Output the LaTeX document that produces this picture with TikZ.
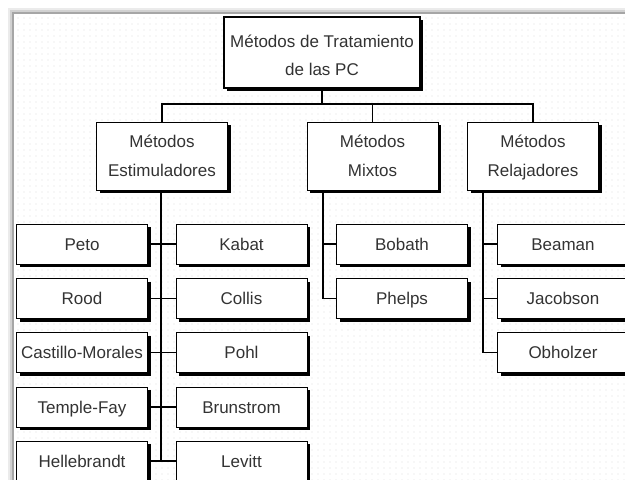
\documentclass[tikz,border=0pt]{standalone}
\usepackage{fontspec}
\setmainfont{Liberation Sans}
\usetikzlibrary{patterns,shadows}

\pgfdeclarepatternformonly{sparsedots}{\pgfqpoint{-1pt}{-1pt}}{\pgfqpoint{7pt}{7pt}}{\pgfqpoint{6pt}{6pt}}{%
  \pgfpathcircle{\pgfqpoint{0pt}{0pt}}{0.7pt}\pgfusepath{fill}}

\tikzset{
  metodo/.style={draw, line width=0.8pt, fill=white, text=black!80, font=\fontsize{17}{28}\selectfont,
    align=center, inner sep=0pt, minimum width=131pt, minimum height=40pt, text height=12.5pt, text depth=0pt,
    drop shadow={shadow xshift=3pt, shadow yshift=-3pt, fill=black, opacity=1}},
  grupo/.style={metodo, minimum height=68pt, text height=, font=\fontsize{17}{29}\selectfont},
  raiz/.style={metodo, line width=1.5pt, minimum width=196pt, minimum height=71pt, text height=, text depth=0pt,
    font=\fontsize{17}{28}\selectfont},
  conn/.style={line width=1.6pt}
}

\begin{document}
\begin{tikzpicture}[x=1pt, y=-1pt]
	%%%%% FONDO %%%%%
	\useasboundingbox (0,0) rectangle (625,480);
	\fill[white] (0,0) rectangle (625,480);
	\fill[pattern=sparsedots, pattern color=black!12] (14,14) rectangle (625,480);
	\draw[line width=2pt, color=black!8] (9,480) -- (9,9) -- (625,9);
	\draw[line width=1.5pt, color=black!18] (11,480) -- (11,11) -- (625,11);
	\draw[line width=1.2pt, color=black!35] (13,480) -- (13,13) -- (625,13);
	
	%%%%% NIVEL 1 %%%%%
	\node[raiz] (top) at (322, 52.5) {\rule{0pt}{18pt}Métodos de Tratamiento\\de las PC};
	
	%%%%% NIVEL 2 %%%%%
	\node[grupo] (estim) at (162, 156) {Métodos\\Estimuladores};
	\node[grupo] (mixtos) at (372.5, 156) {Métodos\\Mixtos};
	\node[grupo] (relaj) at (533, 156) {Métodos\\Relajadores};
	
	\coordinate (bus) at (322, 104);
	\draw[conn] (top.south) -- (bus);
	\draw[conn] (estim.north) |- (bus) -| (relaj.north);
	\draw[conn] (mixtos.north) -- (mixtos.north |- bus);
	
	%%%%% ESTIMULADORES %%%%%
	\node[metodo] (peto) at (82, 244) {Peto};
	\node[metodo] (rood) at (82, 298.5) {Rood};
	\node[metodo] (castillo) at (82, 352.5) {Castillo-Morales};
	\node[metodo] (temple) at (82, 407) {Temple-Fay};
	\node[metodo] (helle) at (82, 461) {Hellebrandt};
	
	\node[metodo] (kabat) at (241.5, 244) {Kabat};
	\node[metodo] (collis) at (241.5, 298.5) {Collis};
	\node[metodo] (pohl) at (241.5, 352.5) {Pohl};
	\node[metodo] (brunstrom) at (241.5, 407) {Brunstrom};
	\node[metodo] (levitt) at (241.5, 461) {Levitt};
	
	\coordinate (espina) at (161, 192);
	\draw[conn] (espina) -- (espina |- helle.east);
	\draw[conn] (peto.east) -- (kabat.west);
	\draw[conn] (rood.east) -- (collis.west);
	\draw[conn] (castillo.east) -- (pohl.west);
	\draw[conn] (temple.east) -- (brunstrom.west);
	\draw[conn] (helle.east) -- (levitt.west);
	
	%%%%% MIXTOS %%%%%
	\node[metodo] (bobath) at (402, 244) {Bobath};
	\node[metodo] (phelps) at (402, 298.5) {Phelps};
	
	\coordinate (mespina) at (323, 192);
	\draw[conn] (mespina) |- (phelps.west);
	\draw[conn] (bobath.west) -- (bobath.west -| mespina);
	
	%%%%% RELAJADORES %%%%%
	\node[metodo] (beaman) at (563, 244) {Beaman};
	\node[metodo] (jacobson) at (563, 298.5) {Jacobson};
	\node[metodo] (obholzer) at (563, 352.5) {Obholzer};
	
	\coordinate (respina) at (483, 192);
	\draw[conn] (respina) |- (obholzer.west);
	\draw[conn] (beaman.west) -- (beaman.west -| respina);
	\draw[conn] (jacobson.west) -- (jacobson.west -| respina);
	
\end{tikzpicture}
\end{document}
